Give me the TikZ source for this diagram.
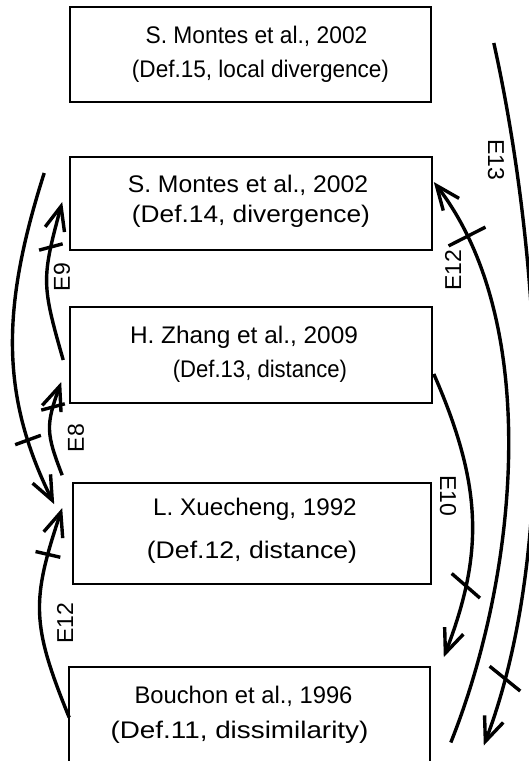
\documentclass[tikz,border=0pt]{standalone}
\usepackage{graphicx}
\usepackage{fontspec}
\setmainfont{Liberation Sans}
\usetikzlibrary{arrows.meta,calc}
\newcommand\hsc[3]{\hspace*{#1pt}\scalebox{#2}[1]{#3}}
\begin{document}
\begin{tikzpicture}[x=1pt,y=-1pt,
  box/.style={draw, line width=1.6pt, inner sep=0pt, align=center},
  conn/.style={line width=3.4pt, -{Straight Barb[length=24pt,width=20pt]}},
  tickmk/.style={inner sep=0pt, minimum height=0pt, minimum width=#1},
  tickln/.style={line width=3.4pt},
  elab/.style={font=\fontsize{23}{26}\selectfont, inner sep=0pt}]
\useasboundingbox (0,0) rectangle (529,761);
\clip (0,0) rectangle (529,761);

% boxes
\node[box, minimum width=361pt, minimum height=95pt, font=\fontsize{24}{33.5}\selectfont] (b1) at (250.5,54.5)
  {\hsc{12}{0.95}{S. Montes et al., 2002}\\\hsc{20}{0.94}{(Def.15, local divergence)}};
\node[box, minimum width=362pt, minimum height=93pt, font=\fontsize{24}{30}\selectfont] (b2) at (251,203.5)
  {\hsc{-6}{1.03}{S. Montes et al., 2002}\\\hsc{0}{1.095}{(Def.14, divergence)}\rule[-9pt]{0pt}{0pt}};
\node[box, minimum width=362pt, minimum height=96pt, font=\fontsize{24}{34.5}\selectfont] (b3) at (251,355)
  {\hsc{-14}{1.017}{H. Zhang et al., 2009}\\\hsc{18}{0.92}{(Def.13, distance)}\rule[-6pt]{0pt}{0pt}};
\node[box, minimum width=358pt, minimum height=101pt, font=\fontsize{24}{43}\selectfont] (b4) at (252,533.5)
  {\hsc{6}{1.01}{L. Xuecheng, 1992}\\\hsc{0}{1.11}{(Def.12, distance)}\rule[-10pt]{0pt}{0pt}};
\node[box, minimum width=361pt, minimum height=95pt, font=\fontsize{24}{35}\selectfont] (b5) at (249.5,714.5)
  {\hsc{-12}{0.99}{Bouchon et al., 1996}\\\hsc{-20}{1.16}{(Def.11, dissimilarity)}};

% left connectors
\draw[conn] ([shift={(-25,-30.5)}]b2.west) .. controls (2,305.6) and (-0.7,393.6) .. ([shift={(-18,22)}]b4.north west)
  node[tickmk=24pt, rotate=20, pos=0.8] (k0) {};
\draw[tickln] (k0.west) -- (k0.east);

\draw[conn] ([shift={(-6,5)}]b3.west) .. controls (41.5,284) and (41.5,279) .. ([shift={(-7,-1.5)}]b2.west)
  node[tickmk=21pt, rotate=15, pos=0.76] (k9) {};
\draw[tickln] (k9.west) -- (k9.east);

\draw[conn] ([shift={(-10,-7)}]b4.north west) .. controls (45.8,433) and (45.8,425) .. ([shift={(-8,27)}]b3.west)
  node[tickmk=21pt, rotate=15, pos=0.77] (k8) {};
\draw[tickln] (k8.west) -- (k8.east);

\draw[conn] ([shift={(1,3)}]b5.west) .. controls (31.2,624) and (31.2,601) .. ([shift={(-10,-25.5)}]b4.west)
  node[tickmk=22pt, rotate=-13, pos=0.81] (k12l) {};
\draw[tickln] (k12l.west) -- (k12l.east);

% right connectors
\draw[conn] ([shift={(62,-11.5)}]b1.east) .. controls (533.6,221.9) and (565.2,531.4) .. ([shift={(53,31)}]b5.east)
  node[tickmk=36pt, rotate=-39, pos=0.9] (k13) {};
\draw[tickln] (k13.west) -- (k13.east);

\draw[conn] ([shift={(20,28)}]b5.east) .. controls (519.2,571) and (541.2,321) .. ([shift={(1,-21.5)}]b2.east)
  node[tickmk=38pt, rotate=27, pos=0.88] (k12r) {};
\draw[tickln] (k12r.west) -- (k12r.east);

\draw[conn] ([shift={(1,19)}]b3.east) .. controls (483.6,487.9) and (483.1,554.8) .. ([shift={(13,-9)}]b5.north east)
  node[tickmk=34pt, rotate=-41, pos=0.75] (k10) {};
\draw[tickln] (k10.west) -- (k10.east);

% labels
\node[elab, rotate=90] (l9) at (62,277) {E9};
\node[elab, rotate=90] (l8) at (76,438) {E8};
\node[elab, rotate=90] (l12l) at (65,623) {E12};
\node[elab, rotate=-90] (l13) at (496,160) {E13};
\node[elab, rotate=90] (l12r) at (453,270) {E12};
\node[elab, rotate=-90] (l10) at (448,496) {E10};
\end{tikzpicture}
\end{document}
